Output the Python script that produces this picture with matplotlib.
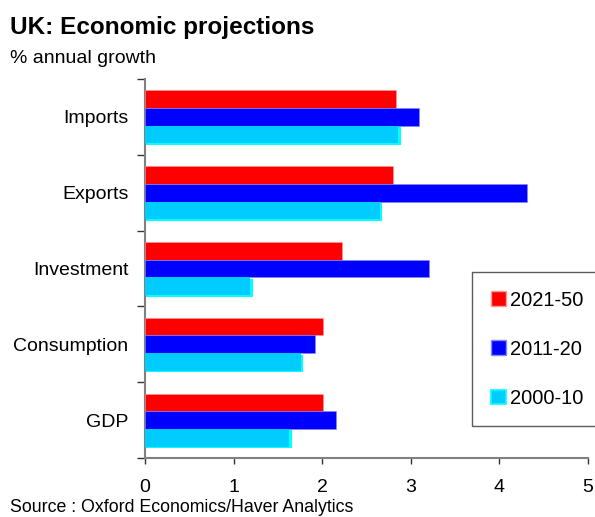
import numpy as np
import matplotlib
matplotlib.use("Agg")
import matplotlib.pyplot as plt
from matplotlib.patches import Patch

plt.rcParams['font.family'] = ['Liberation Sans', 'DejaVu Sans']

# data (bottom to top)
categories = ["GDP", "Consumption", "Investment", "Exports", "Imports"]
s2021_50 = [2.01, 2.01, 2.22, 2.80, 2.83]
s2011_20 = [2.16, 1.92, 3.20, 4.31, 3.09]
s2000_10 = [1.63, 1.76, 1.19, 2.65, 2.86]
x_ticks = [0, 1, 2, 3, 4, 5]

red = "#FF0000"
blue = "#0000FF"
cyan = "#00CCFF"
cyan_light = "#00FFFF"

fig = plt.figure(figsize=(5.95, 5.17), dpi=100)
ax = fig.add_axes([0.2437, 0.1141, 0.7445, 0.733])

y = np.arange(len(categories))
h = 0.233

ax.barh(y + h, s2021_50, height=h, color=red, edgecolor="#FF9999", linewidth=0.4, zorder=3)
ax.barh(y, s2011_20, height=h, color=blue, edgecolor="#8888FF", linewidth=0.4, zorder=3)
# light cyan shadow behind the 2000-10 bars
ax.barh(y - h - 0.02, np.array(s2000_10) + 0.025, height=h, color=cyan_light, linewidth=0, zorder=2)
ax.barh(y - h, s2000_10, height=h, color=cyan, linewidth=0, zorder=3)

ax.set_xlim(0, 5)
ax.set_ylim(-0.5, len(categories) - 0.5)
ax.set_xticks(x_ticks)
ax.set_xticklabels([str(t) for t in x_ticks], fontsize=14)
ax.set_yticks(y)
ax.set_yticklabels(categories, fontsize=14)
ax.set_yticks(np.arange(len(categories) + 1) - 0.5, minor=True)

ax.tick_params(axis="y", which="major", length=0, pad=12)
ax.tick_params(axis="y", which="minor", length=6, width=1, color="#333333", direction="out")
ax.tick_params(axis="x", length=4, width=1, color="#333333", pad=11)

for s in ["top", "right"]:
    ax.spines[s].set_visible(False)
for s in ["left", "bottom"]:
    ax.spines[s].set_color("#808080")
    ax.spines[s].set_linewidth(1.5)

handles = [Patch(facecolor=red, edgecolor="#FF9999"),
           Patch(facecolor=blue, edgecolor="#8888FF"),
           Patch(facecolor=cyan, edgecolor=cyan_light, linewidth=1.2)]
leg = fig.legend(handles, ["2021-50", "2011-20", "2000-10"],
                 loc="upper left", bbox_to_anchor=(0.794, 0.473),
                 fontsize=14.5, frameon=True, fancybox=False,
                 handlelength=0.75, handleheight=0.75, handletextpad=0.2,
                 labelspacing=1.5, borderpad=0.9, borderaxespad=0)
leg.get_frame().set_edgecolor("#333333")
leg.get_frame().set_linewidth(1.0)

fig.text(0.017, 0.934, "UK: Economic projections", fontsize=17.5, fontweight="bold", va="baseline")
fig.text(0.017, 0.878, "% annual growth", fontsize=14, va="baseline")
fig.text(0.017, 0.01, "Source : Oxford Economics/Haver Analytics", fontsize=12.8, va="baseline")

fig.savefig("out.png", dpi=100)
